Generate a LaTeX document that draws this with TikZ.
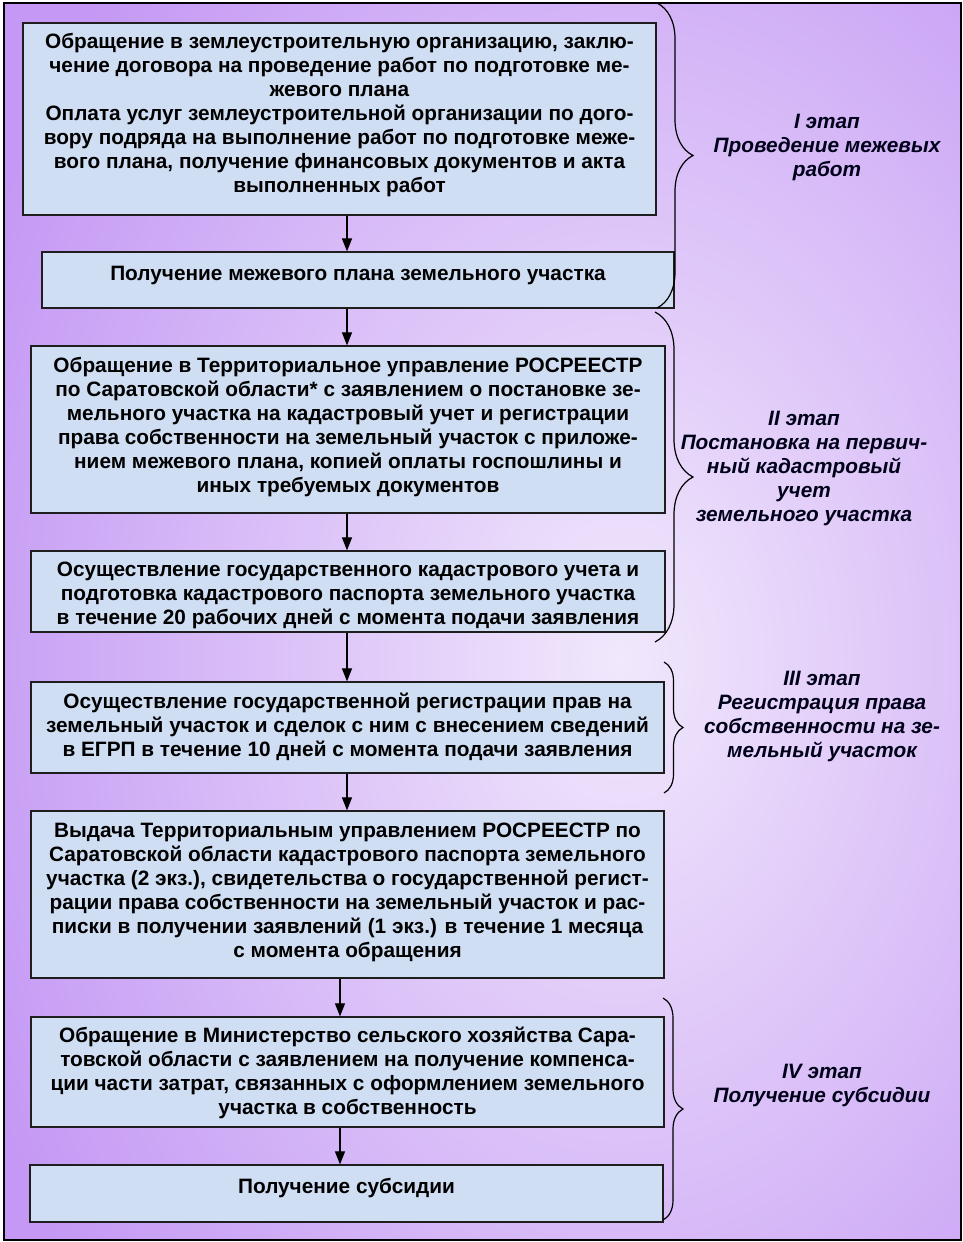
\documentclass[tikz,border=0pt]{standalone}
\usepackage{fontspec}
\setmainfont{Liberation Sans}
\usetikzlibrary{arrows.meta,decorations.pathreplacing,calc}
\definecolor{bgp}{HTML}{C498F4}
\definecolor{bgl}{HTML}{F1E8FC}
\definecolor{boxfill}{HTML}{D0DEF4}
\definecolor{boxline}{HTML}{1E1E1E}
\begin{document}
\begin{tikzpicture}[x=1pt,y=-1pt,
  box/.style={draw=boxline, line width=1.2pt, fill=boxfill, inner sep=0pt},
  boxtext/.style={align=center, inner sep=0pt,
    font=\bfseries\fontsize{20.8}{24}\selectfont},
  stage/.style={align=center, inner sep=0pt, text=black!90!blue,
    font=\bfseries\itshape\fontsize{20.8}{24}\selectfont},
  arr/.style={draw=black, line width=1.1pt, -{Triangle[length=13pt,width=10pt]}},
  bracestyle/.style={draw=black, line width=1.2pt, decorate},
]
\useasboundingbox (0,0) rectangle (963,1242);
% background
\begin{scope}
  \clip (4,3) rectangle (961,1240);
  \fill[bgp] (4,3) rectangle (961,1240);
  \shade[inner color=bgl, outer color=bgp] (620,660) ellipse (700 and 1000);
\end{scope}
\draw[black, line width=1.2pt] (4,3) rectangle (961,1240);

% boxes
\node[box, minimum width=633, minimum height=192] (b1) at (339.5,119) {};
\node[box, minimum width=632, minimum height=56] (b2) at (358,280) {};
\node[box, minimum width=634, minimum height=167] (b3) at (348,429.5) {};
\node[box, minimum width=634, minimum height=81] (b4) at (348,591.5) {};
\node[box, minimum width=633, minimum height=91] (b5) at (347.5,727.5) {};
\node[box, minimum width=633, minimum height=167] (b6) at (347.5,894.5) {};
\node[box, minimum width=633, minimum height=110] (b7) at (347.5,1072) {};
\node[box, minimum width=633, minimum height=57] (b8) at (346.5,1193.5) {};

% box texts
\node[boxtext] (t1) at ($(b1.center)+(0,-4)$) {%
Обращение в землеустроительную организацию, заклю-\\
чение договора на проведение работ по подготовке ме-\\
жевого плана\\
Оплата услуг землеустроительной организации по дого-\\
вору подряда на выполнение работ по подготовке меже-\\
вого плана, получение финансовых документов и акта\\
выполненных работ};
\node[boxtext] (t2) at ($(b2.center)+(0,-5)$) {Получение межевого плана земельного участка};
\node[boxtext] (t3) at ($(b3.center)+(0,-2)$) {%
Обращение в Территориальное управление РОСРЕЕСТР\\
по Саратовской области* с заявлением о постановке зе-\\
мельного участка на кадастровый учет и регистрации\\
права собственности на земельный участок с приложе-\\
нием межевого плана, копией оплаты госпошлины и\\
иных требуемых документов};
\node[boxtext] (t4) at ($(b4.center)+(0,4)$) {%
Осуществление государственного кадастрового учета и\\
подготовка кадастрового паспорта земельного участка\\
в течение 20 рабочих дней с момента подачи заявления};
\node[boxtext] (t5) at ($(b5.center)+(0,-1)$) {%
Осуществление государственной регистрации прав на\\
земельный участок и сделок с ним с внесением сведений\\
в ЕГРП в течение 10 дней с момента подачи заявления};
\node[boxtext] (t6) at ($(b6.center)+(0,-2)$) {%
Выдача Территориальным управлением РОСРЕЕСТР по\\
Саратовской области кадастрового паспорта земельного\\
участка (2 экз.), свидетельства о государственной регист-\\
рации права собственности на земельный участок и рас-\\
писки в получении заявлений (1 экз.) в течение 1 месяца\\
с момента обращения};
\node[boxtext] (t7) at ($(b7.center)+(0,1)$) {%
Обращение в Министерство сельского хозяйства Сара-\\
товской области с заявлением на получение компенса-\\
ции части затрат, связанных с оформлением земельного\\
участка в собственность};
\node[boxtext] (t8) at ($(b8.center)+(0,-5)$) {Получение субсидии};

% arrows
\coordinate (ax1) at (347,0);
\coordinate (ax2) at (340,0);
\draw[arr] (b1.south -| ax1) -- (b2.north -| ax1);
\draw[arr] (b2.south -| ax1) -- (b3.north -| ax1);
\draw[arr] (b3.south -| ax1) -- (b4.north -| ax1);
\draw[arr] (b4.south -| ax1) -- (b5.north -| ax1);
\draw[arr] (b5.south -| ax1) -- (b6.north -| ax1);
\draw[arr] (b6.south -| ax2) -- (b7.north -| ax2);
\draw[arr] (b7.south -| ax2) -- (b8.north -| ax2);

% braces
\coordinate (r1a) at (657,3);   \coordinate (r1b) at (657,308);
\coordinate (r2a) at (655,312); \coordinate (r2b) at (655,642);
\coordinate (r3a) at (664,662); \coordinate (r3b) at (664,793);
\coordinate (r4a) at (663,998); \coordinate (r4b) at (663,1220);
\draw[bracestyle, decoration={brace, amplitude=36pt}] (r1a) -- (r1b);
\draw[bracestyle, decoration={brace, amplitude=38pt}] (r2a) -- (r2b);
\draw[bracestyle, decoration={brace, amplitude=19pt}] (r3a) -- (r3b);
\draw[bracestyle, decoration={brace, amplitude=20pt}] (r4a) -- (r4b);

% stage labels
\node[stage] (s1) at (827,147.5) {I этап\\Проведение межевых\\работ};
\node[stage] (s2) at (804,468.5) {II этап\\Постановка на первич-\\ный кадастровый\\учет\\земельного участка};
\node[stage] (s3) at (822,716) {III этап\\Регистрация права\\собственности на зе-\\мельный участок};
\node[stage] (s4) at (822,1085) {IV этап\\Получение субсидии};
\end{tikzpicture}
\end{document}
